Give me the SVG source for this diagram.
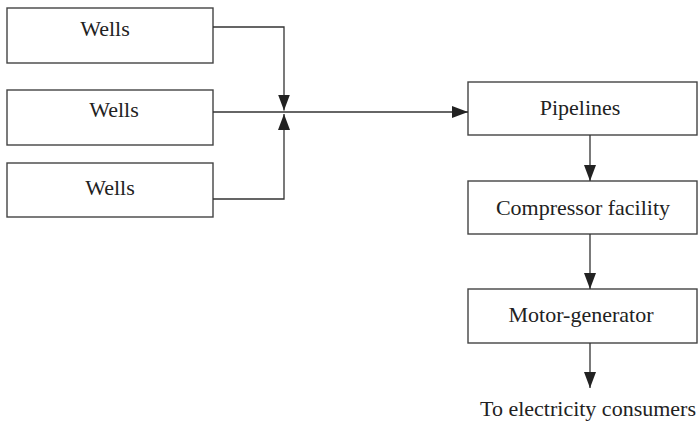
<svg xmlns="http://www.w3.org/2000/svg" width="700" height="422" viewBox="0 0 700 422">
<style>
.box{fill:#fff;stroke:#444;stroke-width:1.4}
.t{font-family:"Liberation Serif","Times New Roman",serif;font-size:22px;fill:#222;text-anchor:middle}
.ln{fill:none;stroke:#333;stroke-width:1.3}
</style>
<defs>
<marker id="ah" markerUnits="userSpaceOnUse" markerWidth="16" markerHeight="12" refX="16" refY="6" orient="auto">
<path d="M0,0 L16,6 L0,12 Z" fill="#222"/>
</marker>
</defs>
<rect width="700" height="422" fill="#fff"/>
<g id="wells1"><rect class="box" x="7" y="8" width="206" height="55"/><text class="t" x="105" y="36">Wells</text></g>
<g id="wells2"><rect class="box" x="7" y="90" width="206" height="55"/><text class="t" x="114" y="117">Wells</text></g>
<g id="wells3"><rect class="box" x="7" y="163" width="206" height="54"/><text class="t" x="110" y="195">Wells</text></g>
<g id="pipelines"><rect class="box" x="468" y="82" width="229" height="53"/><text class="t" x="580" y="115">Pipelines</text></g>
<g id="compressor"><rect class="box" x="468" y="181" width="229" height="53"/><text class="t" x="583" y="215">Compressor facility</text></g>
<g id="motor"><rect class="box" x="468" y="289" width="229" height="54"/><text class="t" x="581" y="322">Motor-generator</text></g>
<g id="consumers"><text class="t" x="588" y="416">To electricity consumers</text></g>
<g id="connectors">
<path class="ln" d="M213,27 H284 V110.5" marker-end="url(#ah)"/>
<path class="ln" d="M213,199 H284 V114" marker-end="url(#ah)"/>
<path class="ln" d="M213,112 H468" marker-end="url(#ah)"/>
<path class="ln" d="M590,135 V181" marker-end="url(#ah)"/>
<path class="ln" d="M590,234 V289" marker-end="url(#ah)"/>
<path class="ln" d="M590,343 V388" marker-end="url(#ah)"/>
</g>
</svg>
